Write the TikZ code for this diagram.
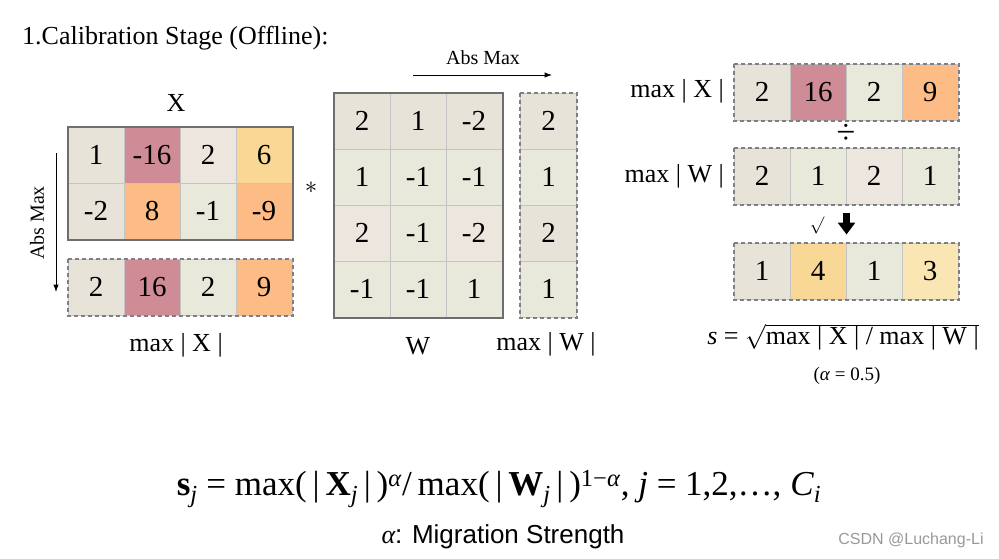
\documentclass[tikz,border=0pt]{standalone}
\usepackage{fontspec}
\setmainfont{Liberation Serif}
\setsansfont{Liberation Sans}
\usetikzlibrary{arrows.meta,calc,positioning}
\definecolor{calBeige}{HTML}{E8E3D9}
\definecolor{calGreen}{HTML}{E8E8DB}
\definecolor{calPink}{HTML}{EDE6DE}
\definecolor{calRose}{HTML}{D08C96}
\definecolor{calGold}{HTML}{F9D794}
\definecolor{calPeach}{HTML}{FDBB86}
\definecolor{calCream}{HTML}{F9E6B2}
\definecolor{calGrid}{HTML}{C4C4C4}
\definecolor{calEdge}{HTML}{6E6E6E}
\definecolor{calDash}{HTML}{808080}

\begin{document}
\begin{tikzpicture}[x=1pt,y=-1pt,>=Latex,line cap=butt,line join=miter]
\path[fill=white] (0,0) rectangle (999,558);
\tikzset{cell/.style={draw=calGrid,line width=1pt,minimum width=56pt,minimum height=56pt,inner sep=0pt,font=\fontsize{29}{31}\selectfont},
  solidbox/.style={draw=calEdge,line width=2pt},dashbox/.style={draw=calDash,line width=2pt,dash pattern=on 4pt off 3pt},
  lbl/.style={font=\fontsize{26}{28}\selectfont,inner sep=0pt},absarrow/.style={draw=black,line width=1pt,->}}
\node[anchor=west,font=\fontsize{26}{28}\selectfont,inner sep=0pt] (title) at (22,38) {1.Calibration Stage (Offline):};
% activation X and its column max
\foreach \v/\c [count=\i] in {1/calBeige,-16/calRose,2/calPink,6/calGold} \node[cell,fill=\c] (x1\i) at (40+56*\i,155) {\v};
\foreach \v/\c [count=\i] in {-2/calBeige,8/calPeach,-1/calGreen,-9/calPeach} \node[cell,fill=\c] (x2\i) at (40+56*\i,211) {\v};
\draw[solidbox] (x11.north west) rectangle (x24.south east);
\foreach \v/\c [count=\i] in {2/calBeige,16/calRose,2/calGreen,9/calPeach} \node[cell,fill=\c] (mx\i) at (40+56*\i,287) {\v};
\draw[dashbox] (mx1.north west) rectangle (mx4.south east);
\node[lbl] (xname) at (176,103) {X};
\node[lbl] (mxname) at (176,345) {max | X |};
\coordinate (vtop) at (56,153); \coordinate (vbot) at (56,292);
\draw[absarrow] (vtop) -- (vbot);
\node[rotate=90,font=\fontsize{20}{22}\selectfont,inner sep=0pt] (vabs) at (37,223) {Abs Max};
\node[font=\fontsize{24}{26}\selectfont,inner sep=0pt] (star) at (311,188) {$\ast$};
% weight W and its row max
\foreach \v/\c [count=\i] in {2/calBeige,1/calBeige,-2/calBeige} \node[cell,fill=\c] (w1\i) at (306+56*\i,121) {\v};
\foreach \v/\c [count=\i] in {1/calGreen,-1/calGreen,-1/calGreen} \node[cell,fill=\c] (w2\i) at (306+56*\i,177) {\v};
\foreach \v/\c [count=\i] in {2/calPink,-1/calGreen,-2/calPink} \node[cell,fill=\c] (w3\i) at (306+56*\i,233) {\v};
\foreach \v/\c [count=\i] in {-1/calGreen,-1/calGreen,1/calGreen} \node[cell,fill=\c] (w4\i) at (306+56*\i,289) {\v};
\draw[solidbox] (w11.north west) rectangle (w43.south east);
\foreach \v/\c [count=\i] in {2/calBeige,1/calGreen,2/calBeige,1/calGreen} \node[cell,fill=\c] (mw\i) at (548.5,65+56*\i) {\v};
\draw[dashbox] (mw1.north west) rectangle (mw4.south east);
\coordinate (hleft) at (413,75); \coordinate (hright) at (552,75);
\draw[absarrow] (hleft) -- (hright);
\node[font=\fontsize{20}{22}\selectfont,inner sep=0pt] (habs) at (483,58) {Abs Max};
\node[lbl] (wname) at (418,346) {W};
\node[lbl] (mwname) at (546,344) {max | W |};
% smoothing factor s
\foreach \v/\c [count=\i] in {2/calBeige,16/calRose,2/calGreen,9/calPeach} \node[cell,fill=\c] (rx\i) at (706+56*\i,92) {\v};
\draw[dashbox] (rx1.north west) rectangle (rx4.south east);
\foreach \v/\c [count=\i] in {2/calBeige,1/calGreen,2/calPink,1/calGreen} \node[cell,fill=\c] (rw\i) at (706+56*\i,176) {\v};
\draw[dashbox] (rw1.north west) rectangle (rw4.south east);
\foreach \v/\c [count=\i] in {1/calBeige,4/calGold,1/calGreen,3/calCream} \node[cell,fill=\c] (rs\i) at (706+56*\i,271) {\v};
\draw[dashbox] (rs1.north west) rectangle (rs4.south east);
\node[lbl,anchor=east] (rxname) at (724,91) {max | X |};
\node[lbl,anchor=east] (rwname) at (724,176) {max | W |};
\node[font=\fontsize{34}{36}\selectfont,inner sep=0pt] (divsign) at (846,134) {÷};
\node[font=\fontsize{16}{18}\selectfont,inner sep=0pt] (rootsign) at (817,225) {$\surd$};
\draw[line width=7pt,-{Triangle[width=17pt,length=12pt]}] ($(rw2.south east)+(0,8)$) -- ($(rs2.north east)+(0,-8)$);
\node[lbl] (sformula) at (843,337) {\textit{s} = $\sqrt{\mbox{max | X | / max | W |}}$};
\node[font=\fontsize{19}{21}\selectfont,inner sep=0pt] (alphaval) at (847,376) {(\textit{α} = 0.5)};
% general formula
\node[font=\fontsize{35}{38}\selectfont,inner sep=0pt] (general) at (499,489) {\textbf{s}\textsubscript{\textit{j}} = max(\,|\,\textbf{X}\textsubscript{\textit{j}}\,|\,)\textsuperscript{\textit{α}}/\,max(\,|\,\textbf{W}\textsubscript{\textit{j}}\,|\,)\textsuperscript{1−\textit{α}}, \textit{j} = 1,2,…, \textit{C}\textsubscript{\textit{i}}};
\node[font=\fontsize{26}{28}\selectfont\sffamily,inner sep=0pt] (strength) at (503,537) {{\rmfamily\itshape α}: Migration Strength};
\node[font=\fontsize{16}{18}\selectfont\sffamily,text=black!40,inner sep=0pt] (mark) at (911,540) {CSDN @Luchang-Li};
\end{tikzpicture}
\end{document}
